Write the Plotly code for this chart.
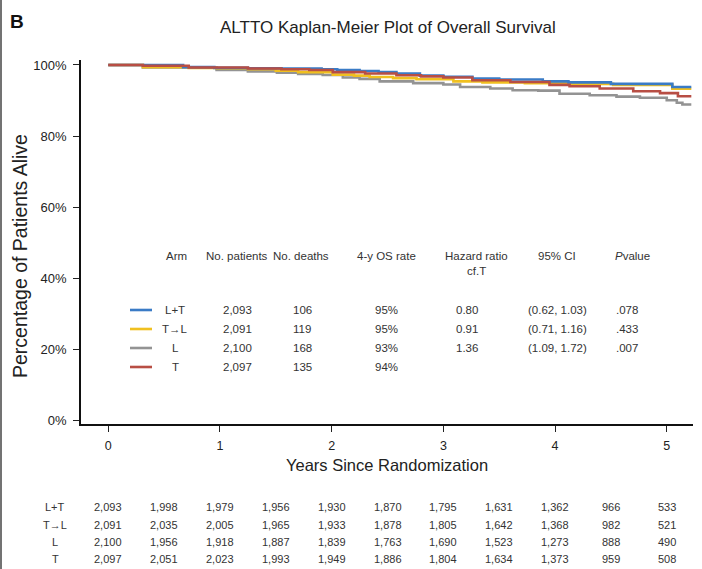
import plotly.graph_objects as go

# Kaplan-Meier step data (years, % alive) for each arm
arms = ["L+T", "T\u2192L", "L", "T"]

t_lt = [0, 0.67, 0.95, 1.25, 1.55, 1.91, 2.05, 2.25, 2.42, 2.58, 2.79, 3.0, 3.26, 3.5, 3.89, 4.12, 4.5, 5.05, 5.22]
s_lt = [100, 99.4, 99.2, 99.1, 99.0, 98.8, 98.6, 98.3, 98.0, 97.6, 97.0, 96.7, 96.2, 95.9, 95.4, 95.1, 94.7, 93.8, 93.8]

t_tl = [0, 0.31, 0.72, 0.97, 1.25, 1.5, 1.7, 2.01, 2.2, 2.34, 2.55, 2.76, 3.09, 3.35, 3.73, 4.1, 4.52, 5.05, 5.22]
s_tl = [100, 99.4, 99.2, 99.0, 98.8, 98.4, 98.0, 97.3, 97.0, 96.6, 96.3, 96.0, 95.4, 95.1, 94.9, 94.7, 94.4, 93.3, 93.3]

t_l = [0, 0.31, 0.97, 1.25, 1.51, 1.7, 1.92, 2.1, 2.25, 2.43, 2.73, 3.0, 3.15, 3.42, 3.62, 3.85, 4.04, 4.31, 4.55, 4.76, 5.0, 5.09, 5.14, 5.22]
s_l = [100, 99.3, 98.6, 98.2, 97.8, 97.5, 97.2, 96.5, 96.1, 95.4, 94.9, 94.5, 93.8, 93.4, 92.9, 92.8, 91.9, 91.5, 91.1, 90.8, 90.1, 89.4, 88.9, 88.9]

t_t = [0, 0.31, 0.72, 1.25, 1.55, 1.8, 2.01, 2.3, 2.58, 2.8, 3.0, 3.26, 3.6, 3.95, 4.13, 4.4, 4.7, 4.94, 5.1, 5.22]
s_t = [100, 99.8, 99.3, 99.0, 98.8, 98.6, 98.0, 97.6, 97.1, 96.8, 96.5, 95.7, 95.2, 94.4, 94.0, 93.4, 92.6, 92.1, 91.2, 91.2]

colors = {"L+T": "#3a7bc6", "T\u2192L": "#f0c020", "L": "#939393", "T": "#b84e44"}

# Summary table
n_patients = ["2,093", "2,091", "2,100", "2,097"]
n_deaths = ["106", "119", "168", "135"]
os_4y = ["95%", "95%", "93%", "94%"]
hazard_ratio = ["0.80", "0.91", "1.36", ""]
ci_95 = ["(0.62, 1.03)", "(0.71, 1.16)", "(1.09, 1.72)", ""]
p_value = [".078", ".433", ".007", ""]

# Numbers at risk every half year
risk_times = [0, 0.5, 1, 1.5, 2, 2.5, 3, 3.5, 4, 4.5, 5]
risk_lt = ["2,093", "1,998", "1,979", "1,956", "1,930", "1,870", "1,795", "1,631", "1,362", "966", "533"]
risk_tl = ["2,091", "2,035", "2,005", "1,965", "1,933", "1,878", "1,805", "1,642", "1,368", "982", "521"]
risk_l = ["2,100", "1,956", "1,918", "1,887", "1,839", "1,763", "1,690", "1,523", "1,273", "888", "490"]
risk_t = ["2,097", "2,051", "2,023", "1,993", "1,949", "1,886", "1,804", "1,634", "1,373", "959", "508"]

FONT = "Liberation Sans, Arial, Helvetica, sans-serif"
TXT = "#333333"

W, H = 702, 569
ML, MR, MT, MB = 81, 9, 60, 145
PW, PH = W - ML - MR, H - MT - MB


def px(xp):
    return (xp - ML) / PW


def py(yp):
    return (H - MB - yp) / PH


fig = go.Figure()
curves = {"L+T": (t_lt, s_lt), "T\u2192L": (t_tl, s_tl), "L": (t_l, s_l), "T": (t_t, s_t)}
for arm in ["L", "T\u2192L", "L+T", "T"]:
    tt, ss = curves[arm]
    fig.add_trace(go.Scatter(x=tt, y=ss, mode="lines", line=dict(color=colors[arm], width=2.6, shape="hv"),
                             name=arm, showlegend=False, hoverinfo="skip"))

ann = []


def text(x, y, s, size=11.5, xref="paper", xanchor="center", color=TXT, family=FONT, **kw):
    ann.append(dict(x=x, y=y, xref=xref, yref="paper", text=s, showarrow=False, xanchor=xanchor,
                    yanchor="middle", font=dict(size=size, color=color, family=family), **kw))


# Titles
text(px(388), py(27), "ALTTO Kaplan-Meier Plot of Overall Survival", size=17, color="#222222")
text(px(8), py(22), "<b>B</b>", size=19, xanchor="left", color="#111111")
text(px(387), py(465), "Years Since Randomization", size=16.5, color="#222222")
text(px(20), py(256), "Percentage of Patients Alive", size=19.5, color="#222222", textangle=-90)

# Summary table header
hdr_y = py(256)
text(px(176), hdr_y, "Arm")
text(px(237), hdr_y, "No. patients")
text(px(301), hdr_y, "No. deaths")
text(px(386), hdr_y, "4-y OS rate")
text(px(476), hdr_y, "Hazard ratio")
text(px(476), py(271), "cf.T")
text(px(557), hdr_y, "95% CI")
text(px(632), hdr_y, "<i>P</i>value")

row_y = [310, 329, 348, 367]
shapes = []
for i, arm in enumerate(arms):
    yy = py(row_y[i])
    shapes.append(dict(type="line", xref="paper", yref="paper", x0=px(130), x1=px(152), y0=yy, y1=yy,
                       line=dict(color=colors[arm], width=2.6)))
    text(px(175), yy, arm)
    text(px(237), yy, n_patients[i])
    text(px(302), yy, n_deaths[i])
    text(px(386), yy, os_4y[i])
    if hazard_ratio[i]:
        text(px(467), yy, hazard_ratio[i])
        text(px(557), yy, ci_95[i])
        text(px(627), yy, p_value[i])

# Numbers at risk
risk_rows = [risk_lt, risk_tl, risk_l, risk_t]
risk_y = [507, 525, 542, 559]
for i, arm in enumerate(arms):
    yy = py(risk_y[i])
    text(px(55), yy, arm, size=11)
    for tx, v in zip(risk_times, risk_rows[i]):
        text(tx, yy, v, size=11, xref="x")

# Left frame edge
shapes.append(dict(type="line", xref="paper", yref="paper", x0=px(1), x1=px(1), y0=py(0), y1=py(569),
                   line=dict(color="#444444", width=1.5)))

fig.update_layout(
    width=W, height=H, margin=dict(l=ML, r=MR, t=MT, b=MB),
    paper_bgcolor="white", plot_bgcolor="white",
    font=dict(family=FONT, color=TXT),
    annotations=ann, shapes=shapes,
    xaxis=dict(range=[-0.244, 5.235], tickvals=[0, 1, 2, 3, 4, 5], ticks="outside", ticklen=6,
               tickwidth=1.3, tickcolor="#222", showline=True, linecolor="#111", linewidth=1.8,
               showgrid=False, zeroline=False, tickfont=dict(size=12.5, color="#222"),
               ticklabelstandoff=3),
    yaxis=dict(range=[-0.93, 101.4], tickvals=[0, 20, 40, 60, 80, 100],
               ticktext=["0%", "20%", "40%", "60%", "80%", "100%"], ticks="outside", ticklen=6,
               tickwidth=1.3, tickcolor="#222", showline=True, linecolor="#111", linewidth=1.8,
               showgrid=False, zeroline=False, tickfont=dict(size=13, color="#222"),
               ticklabelstandoff=4),
)

fig.write_html("out.html")
